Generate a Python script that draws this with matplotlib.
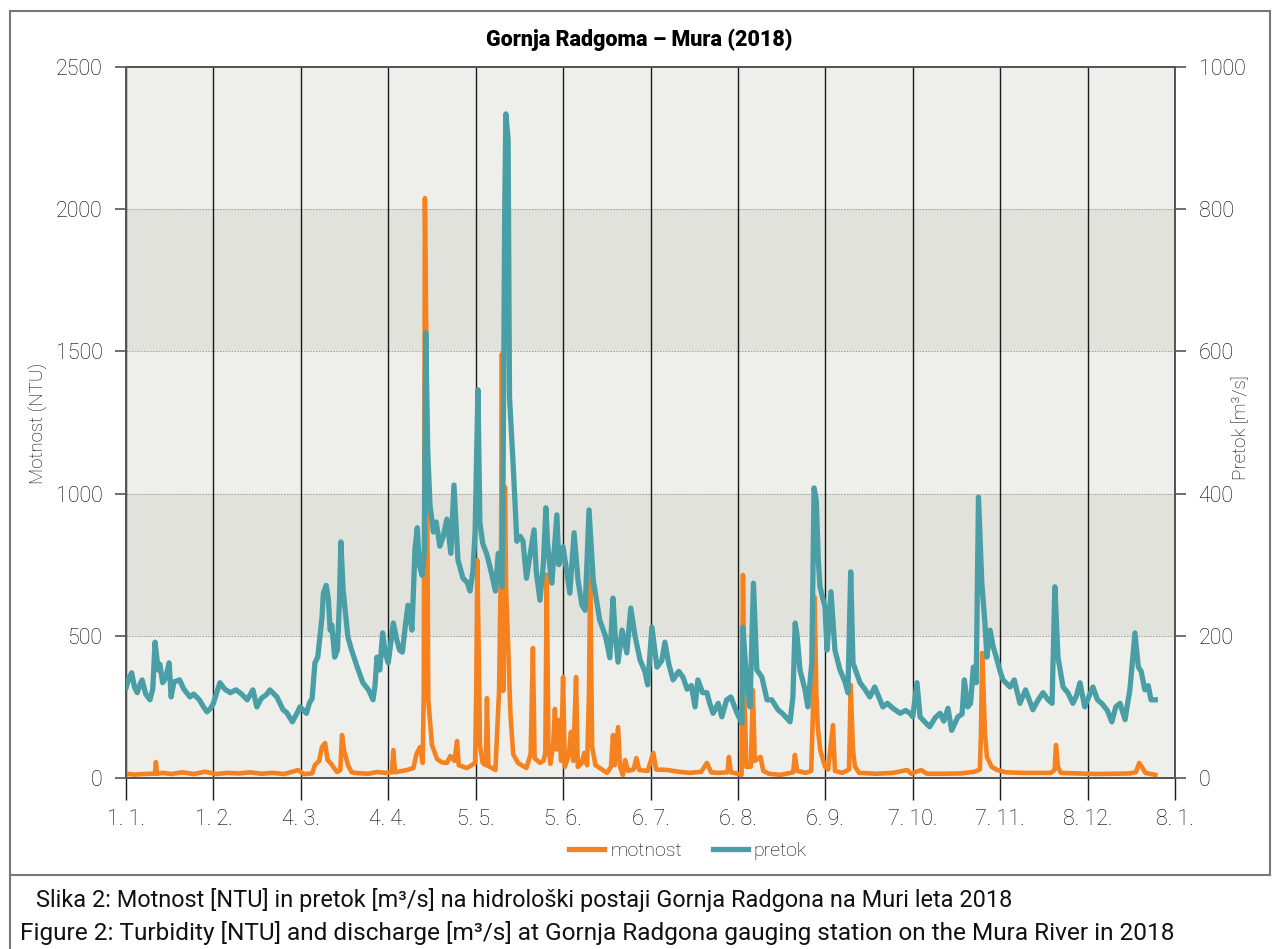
import matplotlib
matplotlib.use("Agg")
import matplotlib.pyplot as plt
from matplotlib.lines import Line2D

plt.rcParams['font.family'] = ['Roboto', 'DejaVu Sans']

# days since 1 Jan 2018
month_ticks = [0, 31, 62, 93, 124, 155, 186, 217, 248, 279, 310, 341, 372]
month_labels = ['1. 1.', '1. 2.', '4. 3.', '4. 4.', '5. 5.', '5. 6.', '6. 7.',
                '6. 8.', '6. 9.', '7. 10.', '7. 11.', '8. 12.', '8. 1.']

# pretok [m3/s]
pretok_day = [0, 1, 2, 3, 4, 5, 5.7, 7, 8.5, 9.5, 10.3, 11.4, 12, 13, 14, 15.3, 16, 17, 19,
              20.5, 22.7, 24, 26, 27.5, 28.7, 30, 31, 32, 33.3, 35, 37, 39, 41, 43, 45, 46.4,
              48, 50, 51, 52.5, 53.5, 55.7, 57, 59, 60.5, 61.7, 63, 64, 65, 66, 67, 68, 69.5,
              70, 71, 71.8, 72.4, 73, 74, 75, 75.7, 76.2, 77, 78, 78.7, 80, 82, 84, 86, 87.6,
              88.3, 89, 90, 91, 92, 93, 94.8, 96, 97, 98, 99, 100, 101.4, 102.5, 103.3, 104,
              105, 105.8, 106.3, 107, 107.8, 109, 110, 111.3, 112.5, 113.8, 115.2, 116.3,
              117.7, 119.5, 121, 122, 123, 123.8, 124.8, 125.5, 126.5, 128, 129.5, 131, 132,
              133.3, 133.7, 134.3, 134.7, 135.5, 136, 137.3, 138.6, 139.8, 140.8, 142, 143.3,
              144.7, 145.5, 146.8, 148, 148.9, 149.5, 150.4, 151, 152.8, 153.5, 155, 156.3,
              157.4, 158.9, 160.3, 161.7, 162.8, 164.2, 165.7, 168, 170, 171.6, 172.7, 173.5,
              174.5, 175.9, 177.6, 179, 180.5, 182.3, 184, 185, 186.5, 188.3, 190, 191.1,
              192.5, 194, 196, 197.5, 199, 200.5, 201.8, 202.8, 204.5, 206, 207, 208.2, 210,
              211.3, 213, 214.5, 216.7, 218.4, 218.8, 220, 221.3, 222.5, 223.7, 225.5, 227.3,
              229, 231.2, 233, 235.5, 236.5, 237.3, 238, 239, 240.8, 241.8, 243.2, 244, 244.8,
              245.5, 246.1, 247.9, 248.6, 250, 251.4, 253.2, 255, 256, 257, 257.8, 260.3, 262,
              263.8, 265.5, 268.4, 270, 272, 274.5, 276.5, 278, 279, 280.5, 281.6, 283, 285,
              287, 288.7, 290, 291.5, 292.8, 295, 296.5, 297.3, 298.5, 299.5, 300.5, 301.5,
              302.3, 303.5, 304.6, 305.3, 306.4, 307.5, 308.9, 310, 311, 313.5, 315, 317, 319,
              321.6, 323.5, 325.2, 327, 328.4, 329.4, 330.5, 332.3, 334, 335.8, 337, 338.3,
              340, 341.5, 342.9, 344.5, 346, 348, 349.6, 351, 352.5, 354.3, 355, 356, 357.8,
              359, 360, 361.3, 362.5, 363.5, 365]
pretok_val = [127, 140, 148, 128, 120, 132, 138, 118, 110, 125, 191, 152, 160, 134, 140, 162, 114,
              135, 138, 125, 114, 118, 110, 100, 93, 98, 105, 118, 134, 125, 120, 124, 118, 110,
              124, 100, 112, 118, 124, 118, 114, 96, 92, 79, 90, 100, 95, 91, 105, 112, 162, 170,
              226, 260, 271, 250, 208, 215, 170, 180, 250, 332, 264, 225, 198, 180, 156, 134, 124,
              110, 130, 170, 152, 204, 175, 162, 218, 195, 180, 177, 212, 243, 208, 323, 352, 300,
              285, 319, 626, 460, 384, 346, 360, 326, 340, 364, 316, 412, 307, 281, 275, 263, 290,
              346, 546, 359, 330, 314, 290, 263, 316, 269, 409, 800, 934, 899, 536, 440, 333, 340,
              333, 281, 314, 349, 290, 250, 300, 380, 330, 294, 274, 370, 300, 325, 290, 260, 345,
              278, 243, 236, 377, 278, 222, 200, 169, 253, 200, 163, 208, 176, 239, 200, 166, 150,
              131, 212, 156, 165, 191, 160, 138, 150, 142, 125, 130, 100, 138, 120, 120, 105, 91,
              105, 86, 110, 114, 91, 77, 212, 142, 100, 274, 152, 142, 110, 110, 96, 90, 79, 114,
              218, 200, 152, 124, 100, 162, 408, 390, 307, 269, 240, 180, 262, 180, 152, 135, 120,
              290, 162, 134, 125, 114, 128, 100, 105, 98, 91, 95, 91, 86, 134, 86, 80, 72, 85, 91,
              80, 98, 67, 86, 90, 138, 100, 105, 156, 134, 395, 274, 218, 170, 208, 185, 166, 150,
              138, 128, 138, 105, 124, 96, 110, 120, 110, 105, 269, 170, 128, 120, 105, 115, 134,
              100, 115, 128, 110, 105, 95, 79, 100, 105, 82, 100, 124, 204, 156, 150, 124, 130,
              110, 110]

# motnost [NTU]
motnost_day = [0, 3, 6, 9, 10.3, 10.6, 11, 13, 16, 20, 24, 28, 32, 36, 40, 44, 48, 52, 56, 59,
               61, 63, 66, 67, 68.5, 69.5, 70.6, 71.5, 72.5, 74.8, 76, 76.6, 77.3, 78.7, 80, 82,
               86, 89, 92, 94.3, 94.8, 95.4, 99.6, 101.9, 103, 104.3, 105.2, 105.6, 106, 106.6,
               107.2, 108.5, 110.3, 112, 113.8, 115, 116.5, 117.4, 118, 120.9, 123.8, 124.2,
               124.6, 125.3, 125.5, 126.5, 127.6, 128, 128.5, 131, 132.3, 133, 133.3, 133.8,
               134.4, 134.8, 135.5, 136.3, 137.3, 139, 142, 143.5, 144.3, 144.9, 146.8, 148,
               148.7, 149.2, 149.8, 150.5, 151.5, 152.1, 152.7, 153.5, 154.3, 155, 155.6, 157,
               157.8, 158.6, 159.6, 160.2, 161.5, 162.5, 163.5, 164.2, 164.6, 165.3, 166.5, 168,
               170.6, 172, 172.7, 173.3, 174.5, 175.2, 176.2, 177, 178, 180, 181, 182, 185, 187,
               188, 192, 196, 200, 204, 206, 207.5, 210, 213.3, 213.8, 214.5, 217, 218.3, 218.8,
               219.2, 220, 221.6, 222.3, 223, 225, 226, 228, 232, 236.6, 237.2, 238, 241, 243,
               243.8, 244.2, 244.8, 245.3, 246.2, 247.9, 249, 250.7, 251.4, 254, 256.4, 257,
               257.8, 258.5, 260, 266, 272, 277, 278.5, 282, 284, 290, 296, 301, 302.8, 303.2,
               303.6, 304, 304.6, 305.3, 307, 309, 312, 318, 324, 328, 329.3, 329.8, 330.5,
               331.5, 338, 344, 350, 356, 358.2, 359.3, 360.5, 361.5, 365]
motnost_val = [15, 12, 14, 15, 15, 56, 15, 18, 14, 20, 14, 22, 14, 18, 16, 20, 15, 18, 14, 22,
               28, 14, 16, 46, 60, 109, 123, 63, 53, 21, 28, 151, 98, 46, 20, 17, 15, 21, 18, 20,
               98, 20, 28, 35, 84, 109, 53, 300, 2039, 1450, 274, 116, 67, 55, 53, 77, 60, 130,
               45, 35, 53, 300, 766, 300, 116, 53, 45, 281, 42, 28, 306, 800, 1491, 306, 1023,
               658, 475, 228, 84, 53, 35, 84, 457, 70, 53, 60, 88, 715, 109, 50, 120, 243, 100,
               204, 60, 355, 39, 80, 162, 60, 355, 39, 50, 88, 45, 300, 735, 109, 45, 35, 18, 40,
               151, 45, 179, 40, 10, 63, 25, 30, 70, 28, 25, 88, 30, 28, 22, 18, 22, 53, 20, 18,
               20, 74, 20, 15, 11, 714, 345, 39, 40, 309, 60, 74, 25, 15, 11, 20, 81, 25, 18, 25,
               300, 636, 300, 179, 98, 39, 30, 186, 25, 18, 30, 327, 98, 40, 18, 15, 18, 28, 15,
               28, 15, 15, 16, 22, 30, 158, 440, 334, 158, 74, 39, 28, 20, 18, 18, 18, 28, 116,
               39, 18, 16, 14, 15, 16, 21, 53, 35, 18, 11]

W, H = 1273, 949
ORANGE = '#f5821f'
TEAL = '#4a9fa6'
TXT = '#000000'

fig = plt.figure(figsize=(W / 100, H / 100), dpi=100)
ax = fig.add_axes([126 / W, 1 - 778 / H, (1175 - 126) / W, (778 - 67) / H])
ax2 = ax.twinx()

ax.set_facecolor('#eeeeea')
for lo, hi in [(500, 1000), (1500, 2000)]:
    ax.axhspan(lo, hi, color='#e2e2dc', zorder=0, lw=0)
for yv in [500, 1000, 1500, 2000]:
    ax.axhline(yv, color='#9a9a9a', lw=0.7, ls=(0, (1.5, 1.5)), zorder=1)
for xv in month_ticks:
    ax.axvline(xv, color='#1a1a1a', lw=1.0, zorder=1)

ax.plot(motnost_day, motnost_val, color=ORANGE, lw=3.3, zorder=3, solid_joinstyle='round')
ax2.plot(pretok_day, pretok_val, color=TEAL, lw=3.8, zorder=3, solid_joinstyle='round')

ax.set_xlim(0, 372)
ax.set_ylim(0, 2500)
ax2.set_ylim(0, 1000)
ax.set_yticks([0, 500, 1000, 1500, 2000, 2500])
ax2.set_yticks([0, 200, 400, 600, 800, 1000])
ax.set_xticks(month_ticks)
ax.set_xticklabels(month_labels)

for a in (ax, ax2):
    for s in a.spines.values():
        s.set_color('#555555')
        s.set_linewidth(1.3)
ax.tick_params(axis='y', direction='out', length=8, width=1.2, color='#555555',
               labelsize=15.5, labelcolor=TXT, pad=9)
ax2.tick_params(axis='y', direction='out', length=8, width=1.2, color='#555555',
                labelsize=15.5, labelcolor=TXT, pad=9)
ax.tick_params(axis='x', direction='out', length=16, width=1.0, color='#1a1a1a',
               labelsize=15.5, labelcolor=TXT, pad=6)
for lab in ax.get_xticklabels() + ax.get_yticklabels() + ax2.get_yticklabels():
    lab.set_fontweight('light')

fig.text(38 / W, 1 - 423 / H, 'Motnost (NTU)', rotation=90, ha='center', va='center',
         fontsize=13.5, color=TXT, fontweight='light')
fig.text(1241 / W, 1 - 428 / H, 'Pretok [m³/s]', rotation=90, ha='center', va='center',
         fontsize=13.5, color=TXT, fontweight='light')

fig.text(639 / W, 1 - 40 / H, 'Gornja Radgoma – Mura (2018)', ha='center', va='center',
         fontsize=15.5, fontweight='black', color='#000000')

handles = [Line2D([], [], color=ORANGE, lw=3.8), Line2D([], [], color=TEAL, lw=3.8)]
fig.legend(handles, ['motnost', 'pretok'], loc='center', bbox_to_anchor=(688 / W, 1 - 851 / H),
           ncol=2, frameon=False, prop={'size': 14, 'weight': 'light'}, handlelength=1.8,
           handletextpad=0.3, columnspacing=1.6, labelcolor=TXT)

# outer frame and caption separator
frame_c = '#777777'
fig.add_artist(Line2D([10 / W, 1270 / W], [1 - 11 / H, 1 - 11 / H], color=frame_c, lw=1.5))
fig.add_artist(Line2D([10 / W, 10 / W], [1 - 11 / H, 0], color=frame_c, lw=1.5))
fig.add_artist(Line2D([1270 / W, 1270 / W], [1 - 11 / H, 1 - 875 / H], color=frame_c, lw=1.5))
fig.add_artist(Line2D([10 / W, 1270 / W], [1 - 875 / H, 1 - 875 / H], color=frame_c, lw=1.5))

fig.text(36 / W, 1 - 900 / H,
         'Slika 2: Motnost [NTU] in pretok [m³/s] na hidrološki postaji Gornja Radgona na Muri leta 2018',
         ha='left', va='center', fontsize=16.9, color='#111111')
fig.text(20 / W, 1 - 933 / H,
         'Figure 2: Turbidity [NTU] and discharge [m³/s] at Gornja Radgona gauging station on the Mura River in 2018',
         ha='left', va='center', fontsize=17.6, color='#111111')

fig.savefig('out.png', dpi=100)
